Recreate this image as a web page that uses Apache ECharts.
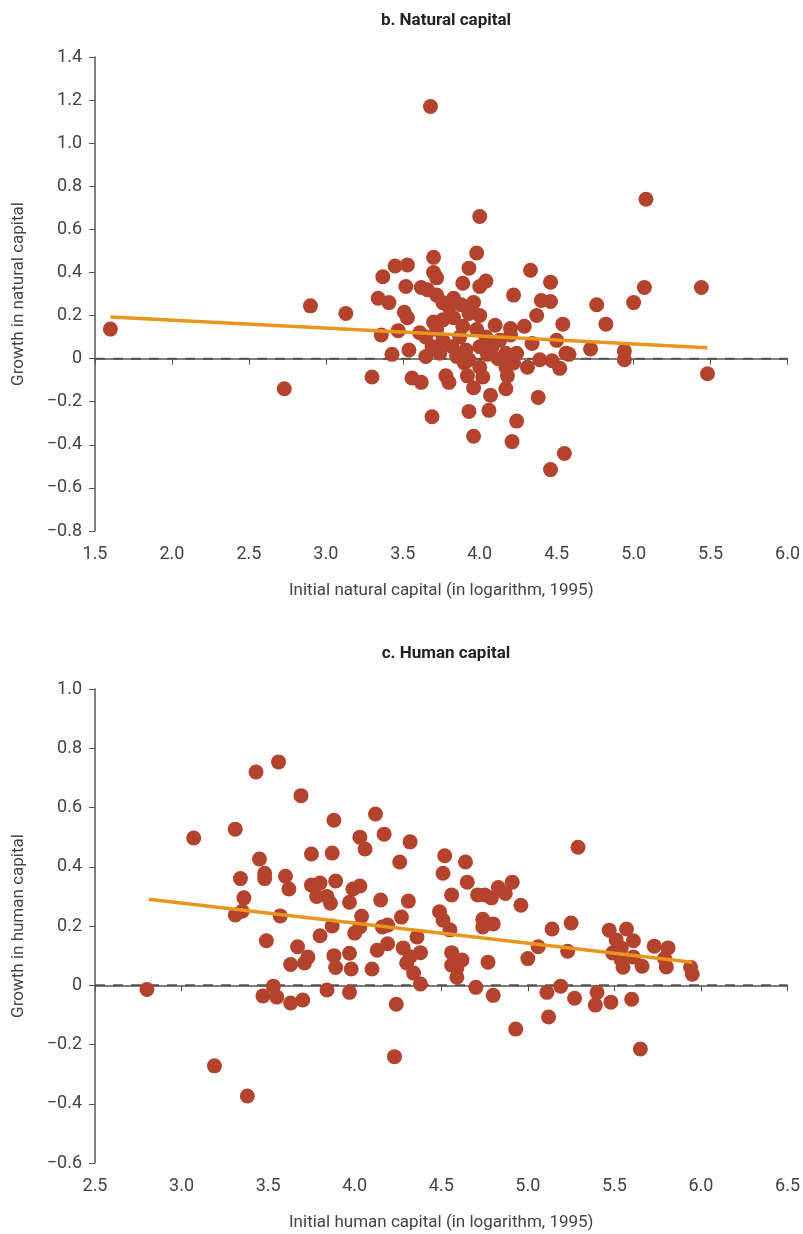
<!DOCTYPE html>
<html><head><meta charset="utf-8">
<script src="https://cdn.jsdelivr.net/npm/echarts@6/dist/echarts.min.js"></script>
<style>html,body{margin:0;padding:0;background:#fff}#c{width:803px;height:1234px}</style>
</head><body><div id="c"></div>
<script>
// Panel b: natural capital
const natX = [1.60,2.73,2.90,3.13,3.30,3.34,3.37,3.41,3.45,3.53,3.36,3.43,3.47,3.51,3.53,3.52,3.54,3.56,3.62,3.62,3.66,3.68,3.70,3.70,3.72,3.69,3.61,3.65,3.72,3.76,3.83,3.88,3.96,4.00,3.93,3.98,4.00,3.89,4.04,4.00,4.33,4.46,4.22,4.40,4.46,4.37,4.10,4.20,4.29,4.54,4.34,4.50,3.78,3.80,3.92,4.02,3.96,4.07,4.17,4.18,4.31,4.39,4.47,4.52,4.56,4.58,4.38,3.93,4.06,4.24,3.96,4.21,4.55,4.46,3.76,3.83,3.93,3.87,3.76,3.69,3.82,3.91,4.00,4.08,4.17,4.24,3.65,3.74,3.93,4.00,4.17,4.13,4.04,3.98,3.89,3.72,3.80,5.08,5.07,5.44,5.00,4.76,4.82,4.72,4.94,4.94,5.48,3.70,4.20,4.22,4.05,3.85,4.12,3.90];
const natY = [0.137,-0.14,0.245,0.21,-0.085,0.28,0.38,0.26,0.43,0.435,0.11,0.02,0.13,0.215,0.19,0.335,0.04,-0.09,-0.11,0.33,0.32,1.17,0.47,0.40,0.375,-0.27,0.12,0.01,0.295,0.26,0.28,0.25,0.26,0.20,0.42,0.49,0.66,0.35,0.36,0.335,0.41,0.355,0.295,0.27,0.265,0.20,0.155,0.14,0.15,0.16,0.07,0.085,-0.08,-0.11,-0.08,-0.085,-0.135,-0.17,-0.14,-0.08,-0.04,-0.005,-0.01,-0.045,0.025,0.02,-0.18,-0.245,-0.24,-0.29,-0.36,-0.385,-0.44,-0.515,0.18,0.19,0.21,0.10,0.085,0.055,0.055,0.04,0.055,0.055,0.025,0.025,0.10,0.025,-0.005,-0.04,-0.04,0.085,0.10,0.135,0.15,0.135,0.24,0.74,0.33,0.33,0.26,0.25,0.16,0.045,0.035,-0.005,-0.07,0.17,0.11,-0.02,0.02,0.01,0.0,-0.02];
const natFitX = [1.60, 5.48];
const natFitY = [0.193, 0.05];

// Panel c: human capital
const humX = [2.80,3.07,3.31,3.43,3.56,3.69,3.88,3.45,3.75,3.87,4.03,4.06,4.12,4.17,4.32,4.26,4.52,4.64,4.51,4.65,4.91,5.29,3.34,3.48,3.48,3.60,3.62,3.75,3.80,3.78,3.84,3.86,3.89,3.97,3.99,4.03,3.36,3.35,3.31,3.57,3.49,3.67,3.73,3.71,3.63,3.80,3.87,3.88,3.89,3.97,3.98,4.04,4.03,4.00,4.15,4.31,4.16,4.19,4.27,4.36,4.13,4.10,4.19,4.28,4.32,4.38,4.30,4.34,4.38,4.56,4.71,4.75,4.79,4.83,4.87,4.96,4.49,4.51,4.55,4.74,4.74,4.80,4.56,4.56,4.62,4.59,4.59,4.77,5.00,5.06,5.14,5.25,5.23,5.47,5.57,5.61,5.51,5.54,5.49,5.54,5.55,5.61,5.66,5.73,5.81,5.80,5.79,5.94,5.95,3.53,3.47,3.55,3.63,3.70,3.84,3.97,4.70,4.80,4.24,5.11,5.19,5.27,5.40,5.39,5.48,5.60,5.12,4.93,3.19,3.38,4.23,5.65];
const humY = [-0.014,0.497,0.527,0.72,0.754,0.64,0.557,0.426,0.443,0.446,0.50,0.46,0.578,0.51,0.484,0.416,0.437,0.416,0.378,0.348,0.348,0.466,0.36,0.378,0.36,0.368,0.325,0.338,0.345,0.30,0.30,0.277,0.352,0.28,0.325,0.335,0.295,0.25,0.237,0.234,0.15,0.13,0.095,0.075,0.07,0.167,0.20,0.10,0.06,0.108,0.055,0.233,0.197,0.176,0.288,0.284,0.197,0.203,0.23,0.163,0.118,0.055,0.14,0.126,0.096,0.11,0.075,0.041,0.004,0.305,0.305,0.305,0.295,0.33,0.31,0.27,0.248,0.22,0.187,0.223,0.197,0.207,0.11,0.068,0.085,0.058,0.027,0.078,0.09,0.13,0.19,0.21,0.115,0.186,0.19,0.15,0.153,0.126,0.109,0.085,0.061,0.095,0.064,0.132,0.126,0.062,0.09,0.061,0.037,-0.003,-0.036,-0.04,-0.06,-0.05,-0.016,-0.024,-0.007,-0.034,-0.064,-0.024,-0.003,-0.044,-0.024,-0.067,-0.057,-0.047,-0.107,-0.148,-0.272,-0.374,-0.241,-0.215];
const humFitX = [2.81, 5.95];
const humFitY = [0.29, 0.078];

const titles = ["b. Natural capital", "c. Human capital"];
const xNames = ["Initial natural capital (in logarithm, 1995)", "Initial human capital (in logarithm, 1995)"];
const yNames = ["Growth in natural capital", "Growth in human capital"];
const xRanges = [[1.5, 6.0], [2.5, 6.5]];
const yRanges = [[-0.8, 1.4], [-0.6, 1.0]];

const FONT = "'Roboto', sans-serif";
const PT = '#B4432D', FIT = '#E8951E', AX = '#555';
const zip = (a, b) => a.map((v, i) => [v, b[i]]);
const yFmt = v => Math.abs(v) < 1e-9 ? '0' : (v < 0 ? '\u2212' : '') + Math.abs(v).toFixed(1);

const grids = [{left:95, right:14, top:57, height:474}, {left:95, right:14, top:689, height:474}];
const xAxis = [0,1].map(i => ({
  type:'value', gridIndex:i, min:xRanges[i][0], max:xRanges[i][1], interval:0.5,
  name:xNames[i], nameLocation:'middle', nameGap:51,
  nameTextStyle:{fontFamily:FONT, fontSize:17, color:'#444'},
  axisLine:{lineStyle:{color:AX, width:1.5}}, axisTick:{length:6, lineStyle:{color:AX}},
  axisLabel:{fontFamily:FONT, fontSize:18, color:'#444', margin:14, formatter:v=>v.toFixed(1)},
  splitLine:{show:false}
}));
const yAxis = [0,1].map(i => ({
  type:'value', gridIndex:i, min:yRanges[i][0], max:yRanges[i][1], interval:0.2,
  name:yNames[i], nameLocation:'middle', nameGap:68, nameRotate:90,
  nameTextStyle:{fontFamily:FONT, fontSize:17, color:'#444'},
  axisLine:{show:true, lineStyle:{color:AX, width:1.5}}, axisTick:{show:true, length:6, lineStyle:{color:AX}},
  axisLabel:{fontFamily:FONT, fontSize:18, color:'#444', margin:13, formatter:yFmt},
  splitLine:{show:false}
}));
const pts = [zip(natX, natY), zip(humX, humY)];
const fits = [zip(natFitX, natFitY), zip(humFitX, humFitY)];
const series = [];
[0,1].forEach(i => {
  series.push({type:'line', xAxisIndex:i, yAxisIndex:i, data:[[xRanges[i][0],0],[xRanges[i][1],0]], symbol:'none', z:1,
    lineStyle:{color:'#555', width:2, type:[10,8]}, silent:true});
  series.push({type:'scatter', xAxisIndex:i, yAxisIndex:i, data:pts[i], symbolSize:15, z:2,
    itemStyle:{color:PT, opacity:1}});
  series.push({type:'line', xAxisIndex:i, yAxisIndex:i, data:fits[i], symbol:'none', z:3,
    lineStyle:{color:FIT, width:3.5}});
});
const chart = echarts.init(document.getElementById('c'), null, {renderer:'canvas'});
chart.setOption({
  animation:false,
  title:[
    {text:titles[0], left:441, top:7, textAlign:'center', textStyle:{fontFamily:FONT, fontSize:17, fontWeight:'bold', color:'#222'}},
    {text:titles[1], left:441, top:640, textAlign:'center', textStyle:{fontFamily:FONT, fontSize:17, fontWeight:'bold', color:'#222'}}
  ],
  grid:grids, xAxis:xAxis, yAxis:yAxis, series:series
});
</script></body></html>
